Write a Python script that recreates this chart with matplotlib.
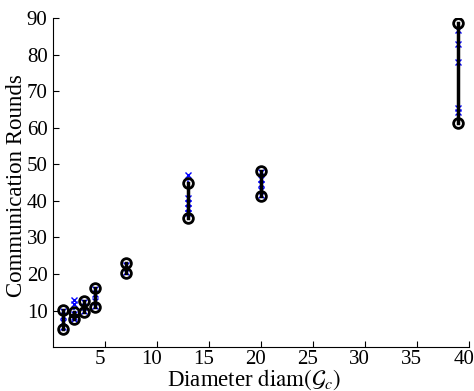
import matplotlib
matplotlib.use("Agg")
import matplotlib.pyplot as plt
import matplotlib.transforms as mtransforms

plt.rcParams['font.family'] = ['Liberation Serif', 'DejaVu Serif']
plt.rcParams['mathtext.fontset'] = 'stix'

# diameters and the rounds measured for each one
diameters = [1, 2, 3, 4, 7, 13, 20, 39]
black_lo = [4.9, 7.8, 9.6, 11.0, 20.4, 35.2, 41.3, 61.2]
black_hi = [10.3, 9.5, 12.7, 16.3, 22.9, 45.0, 48.1, 88.6]
blue_vals = [
    [5.5, 7.0, 8.5, 10.0],
    [7.6, 8.2, 9.2, 11.9, 12.8],
    [9.8, 11.0, 12.4],
    [11.2, 12.5, 14.5, 16.0],
    [20.6, 22.6],
    [36.6, 38.0, 39.5, 40.7, 47.0],
    [41.5, 43.0, 44.5, 46.0, 47.8],
    [64.2, 65.3, 77.9, 83.0, 86.6],
]
xticks = [5, 10, 15, 20, 25, 30, 35, 40]
yticks = [10, 20, 30, 40, 50, 60, 70, 80, 90]

fig = plt.figure(figsize=(4.74, 3.91), dpi=100)
ax = fig.add_axes([0.112, 0.112, 0.877, 0.842])

for d, vals in zip(diameters, blue_vals):
    ax.plot([d] * len(vals), vals, 'bx:', ms=4, lw=1.2)
for d, lo, hi in zip(diameters, black_lo, black_hi):
    ax.plot([d, d], [lo, hi], 'ko-', lw=2.5, ms=7, mew=2, mfc='none')

ax.set_xlim(0, 40)
ax.set_ylim(0, 90)
ax.set_xticks(xticks)
ax.set_yticks(yticks)
ax.spines['top'].set_visible(False)
ax.spines['right'].set_visible(False)
ax.tick_params(direction='in', length=4, labelsize=15)
ax.tick_params(axis='y', pad=4)
ax.tick_params(axis='x', pad=2)

# x tick labels sit a little left of their ticks in the original
shift = mtransforms.ScaledTranslation(-5 / 100, 0, fig.dpi_scale_trans)
for lab in ax.get_xticklabels():
    lab.set_transform(lab.get_transform() + shift)

ax.set_xlabel(r'Diameter $\mathrm{diam}(\mathcal{G}_c)$', fontsize=16.5)
ax.xaxis.set_label_coords(0.484, -0.063)
ax.set_ylabel('Communication Rounds', fontsize=16.5)
ax.yaxis.set_label_coords(-0.063, 0.49)

fig.savefig('out.png', dpi=100)
